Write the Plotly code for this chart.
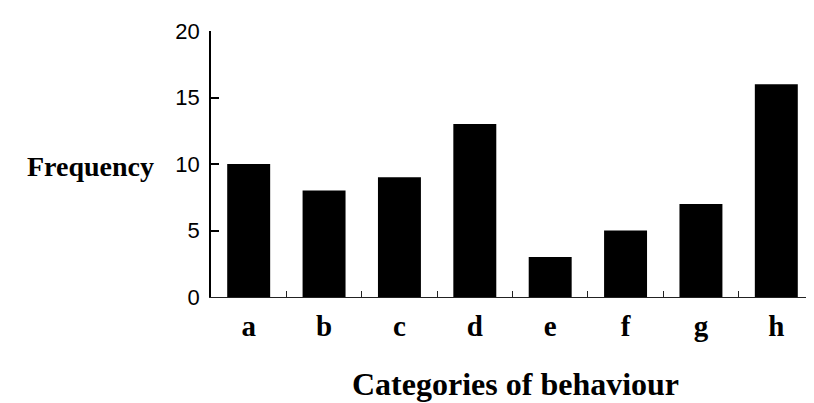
import plotly.graph_objects as go

categories = ["a", "b", "c", "d", "e", "f", "g", "h"]
frequency = [10, 8, 9, 13, 3, 5, 7, 16]
y_ticks = [0, 5, 10, 15, 20]
x_title = "Categories of behaviour"
y_title = "Frequency"

# page has an 8px body margin, so figure is laid out 8px smaller
W, H = 806, 395
L, T, B = 203, 23, 106
PW = W - L
PH = H - T - B

fig = go.Figure(go.Bar(
    x=categories, y=frequency,
    marker=dict(color="black", line=dict(width=0)),
))

fig.update_layout(
    width=W, height=H,
    margin=dict(l=L, r=0, t=T, b=B),
    plot_bgcolor="white", paper_bgcolor="white",
    bargap=0.43,
    showlegend=False,
)
fig.update_xaxes(
    range=[-0.5, 7.5],
    showline=True, linecolor="#222", linewidth=1.3,
    ticks="inside", ticklen=6, tickcolor="#222", tickwidth=1.3,
    tickson="boundaries",
    showgrid=False, zeroline=False,
    tickfont=dict(family="Liberation Serif", size=29, color="black", weight="bold"),
    ticklabelstandoff=3,
)
fig.update_yaxes(
    range=[0, 20],
    tickvals=y_ticks,
    showline=True, linecolor="black", linewidth=1.5,
    ticks="inside", ticklen=8, tickcolor="black", tickwidth=1.5,
    showgrid=False, zeroline=False,
    tickfont=dict(family="Liberation Sans, Arial", size=22, color="black"),
    ticklabelstandoff=5,
)
# positions below are in page pixels minus the 8px body offset
fig.add_annotation(
    text=y_title, xref="paper", yref="paper",
    x=(90 - 8 - L) / PW, y=(297 - 166) / PH,
    xanchor="center", yanchor="middle", showarrow=False,
    font=dict(family="Liberation Serif", size=28, color="black", weight="bold"),
)
fig.add_annotation(
    text=x_title, xref="paper", yref="paper",
    x=(515 - 8 - L) / PW, y=(297 - 384) / PH,
    xanchor="center", yanchor="middle", showarrow=False,
    font=dict(family="Liberation Serif", size=32, color="black", weight="bold"),
)

fig.write_html("out.html")
